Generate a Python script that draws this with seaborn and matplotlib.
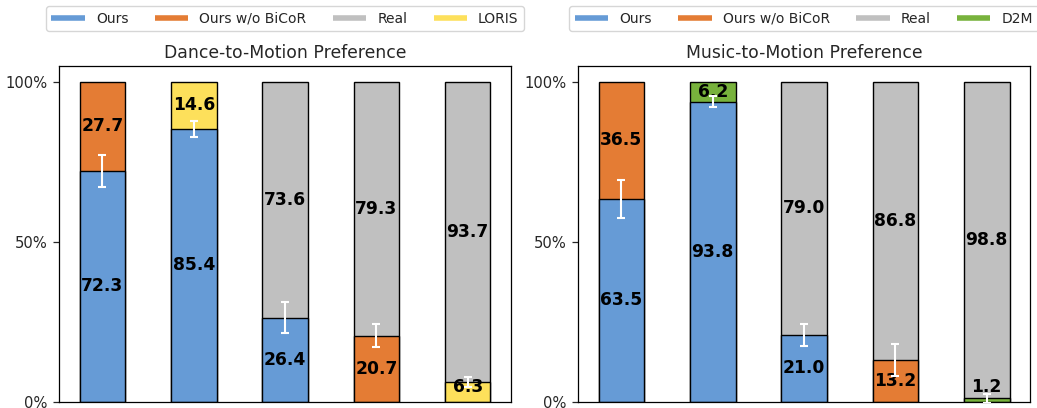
import numpy as np
import pandas as pd
import matplotlib
matplotlib.use("Agg")
import matplotlib.pyplot as plt
import seaborn as sns
from matplotlib.lines import Line2D
from matplotlib.ticker import PercentFormatter

# Dance-to-Motion study: each pair stacks the first method (bottom) under the second (top)
dance_first = ["Ours", "Ours", "Ours", "Ours w/o BiCoR", "LORIS"]
dance_second = ["Ours w/o BiCoR", "LORIS", "Real", "Real", "Real"]
dance_first_pct = [72.3, 85.4, 26.4, 20.7, 6.3]
dance_second_pct = [27.7, 14.6, 73.6, 79.3, 93.7]
dance_err = [5.0, 2.5, 4.8, 3.6, 1.6]
dance_legend = ["Ours", "Ours w/o BiCoR", "Real", "LORIS"]

# Music-to-Motion study
music_first = ["Ours", "Ours", "Ours", "Ours w/o BiCoR", "D2M"]
music_second = ["Ours w/o BiCoR", "D2M", "Real", "Real", "Real"]
music_first_pct = [63.5, 93.8, 21.0, 13.2, 1.2]
music_second_pct = [36.5, 6.2, 79.0, 86.8, 98.8]
music_err = [6.0, 1.7, 3.5, 5.0, 1.4]
music_legend = ["Ours", "Ours w/o BiCoR", "Real", "D2M"]

palette = {
    "Ours": "#669BD6",
    "Ours w/o BiCoR": "#E47C34",
    "Real": "#C0C0C0",
    "LORIS": "#FDE05B",
    "D2M": "#78B23C",
}

sns.set_style("ticks")
plt.rcParams["font.family"] = ["DejaVu Sans"]


def draw_panel(ax, first, second, first_pct, second_pct, err, title, legend_names):
    pairs = [str(i) for i in range(len(first))]
    first_frac = np.array(first_pct) / 100.0
    second_frac = np.array(second_pct) / 100.0
    top = pd.DataFrame({"pair": pairs, "share": first_frac + second_frac, "method": second})
    bottom = pd.DataFrame({"pair": pairs, "share": first_frac, "method": first})
    bar_kw = dict(x="pair", y="share", hue="method", palette=palette, dodge=False,
                  width=0.5, edgecolor="black", linewidth=1.0, errorbar=None,
                  saturation=1, legend=False, order=pairs, ax=ax)
    sns.barplot(data=top, **bar_kw)
    sns.barplot(data=bottom, **bar_kw)

    xs = np.arange(len(pairs))
    ax.errorbar(xs, first_frac, yerr=np.array(err) / 100.0, fmt="none",
                ecolor="white", elinewidth=1.5, capsize=3.2, capthick=1.5, zorder=5)

    for i in range(len(pairs)):
        y_low = max(first_frac[i] / 2, 0.048)
        ax.text(i, y_low, f"{first_pct[i]:.1f}", ha="center", va="center",
                fontsize=12.3, fontweight="bold", color="black", zorder=4)
        y_high = first_frac[i] + second_frac[i] / 2
        ax.text(i, y_high, f"{second_pct[i]:.1f}", ha="center", va="center",
                fontsize=12.3, fontweight="bold", color="black", zorder=4)

    ax.set_xlim(-0.475, len(pairs) - 1 + 0.475)
    ax.set_ylim(0, 1.05)
    ax.set_yticks([0, 0.5, 1.0])
    ax.yaxis.set_major_formatter(PercentFormatter(1.0, decimals=0))
    ax.tick_params(axis="y", labelsize=10.6, length=4.5, width=0.9)
    ax.set_xticks([])
    ax.set_xlabel("")
    ax.set_ylabel("")
    for s in ax.spines.values():
        s.set_visible(True)
        s.set_color("black")
        s.set_linewidth(0.9)
    ax.set_title(title, fontsize=12.4, pad=6)

    handles = [Line2D([], [], color=palette[n], lw=4, solid_capstyle="butt")
               for n in legend_names]
    ax.legend(handles, legend_names, loc="lower center", bbox_to_anchor=(0.5, 1.104),
              ncol=4, fontsize=10.0, handlelength=2.4, columnspacing=1.9,
              borderaxespad=0, frameon=True)


fig = plt.figure(figsize=(10.37, 4.08), dpi=100)
ax1 = fig.add_axes([0.0569, 0.0147, 0.4359, 0.8235])
ax2 = fig.add_axes([0.5574, 0.0147, 0.4359, 0.8235])

draw_panel(ax1, dance_first, dance_second, dance_first_pct, dance_second_pct,
           dance_err, "Dance-to-Motion Preference", dance_legend)
draw_panel(ax2, music_first, music_second, music_first_pct, music_second_pct,
           music_err, "Music-to-Motion Preference", music_legend)

fig.savefig("out.png", dpi=100)
